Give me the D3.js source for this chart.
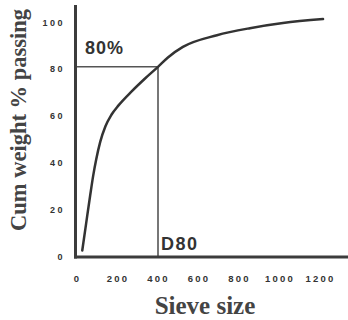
<!DOCTYPE html>
<html>
<head>
<meta charset="utf-8">
<script src="https://cdn.jsdelivr.net/npm/d3@7"></script>
<style>
  body { margin: 0; background: #fff; }
  svg { display: block; }
</style>
</head>
<body>
<div id="chart"></div>
<script>
// cumulative passing curve
const sieveSize = [26, 45, 65, 80, 95, 115, 140, 170, 205, 270, 336, 400, 449, 523, 691, 854, 1017, 1215];
const passing = [1.5, 13, 25, 33.5, 40.5, 48, 54.5, 59.5, 63.5, 69.5, 75, 80, 84, 88.5, 93.5, 96.5, 98.7, 100.4];
const xTicks = [0, 200, 400, 600, 800, 1000, 1200];
const yTicks = [0, 20, 40, 60, 80, 100];
const d80 = [400, 80];

const width = 348;
const height = 320;

const svg = d3.select('#chart').append('svg')
  .attr('width', width)
  .attr('height', height);

const x = d3.scaleLinear().domain([0, 1200]).range([77, 320]);
const y = d3.scaleLinear().domain([0, 100]).range([254, 20]);

const axisColor = '#3c3c3c';

// tick labels only, no tick marks
const xAxis = svg.append('g')
  .attr('transform', 'translate(0,279)')
  .call(d3.axisBottom(x).tickValues(xTicks).tickFormat(d3.format('d')).tickSize(0).tickPadding(0));
xAxis.select('.domain').remove();
xAxis.selectAll('text')
  .attr('dy', '0.35em')
  .attr('font-family', 'Liberation Sans, Arial, sans-serif')
  .attr('font-weight', 'bold')
  .attr('font-size', 9.5)
  .attr('letter-spacing', 2.2)
  .attr('fill', '#333');

const yAxis = svg.append('g')
  .attr('transform', 'translate(65,2)')
  .call(d3.axisLeft(y).tickValues(yTicks).tickSize(0).tickPadding(0));
yAxis.select('.domain').remove();
yAxis.selectAll('text')
  .attr('dy', '0.35em')
  .attr('font-family', 'Liberation Sans, Arial, sans-serif')
  .attr('font-weight', 'bold')
  .attr('font-size', 9)
  .attr('letter-spacing', 2.5)
  .attr('fill', '#333');

// 80% guide lines
const g = svg.append('g');
g.append('line')
  .attr('x1', 76).attr('x2', x(d80[0]))
  .attr('y1', y(d80[1])).attr('y2', y(d80[1]))
  .attr('stroke', '#555').attr('stroke-width', 1.6);
g.append('line')
  .attr('x1', x(d80[0])).attr('x2', x(d80[0]))
  .attr('y1', y(d80[1])).attr('y2', 257)
  .attr('stroke', '#555').attr('stroke-width', 1.6);

// curve
const line = d3.line()
  .x((d, i) => x(sieveSize[i]))
  .y((d) => y(d))
  .curve(d3.curveMonotoneX);

svg.append('path')
  .datum(passing)
  .attr('d', line)
  .attr('fill', 'none')
  .attr('stroke', '#333')
  .attr('stroke-width', 2.5)
  .attr('stroke-linecap', 'round');

// axis lines
svg.append('line')
  .attr('x1', 75.5).attr('x2', 75.5)
  .attr('y1', 5).attr('y2', 258.5)
  .attr('stroke', axisColor).attr('stroke-width', 3);
svg.append('line')
  .attr('x1', 74).attr('x2', 348)
  .attr('y1', 257).attr('y2', 257)
  .attr('stroke', axisColor).attr('stroke-width', 3);

// annotations
svg.append('text')
  .attr('x', 85).attr('y', 54)
  .attr('font-family', 'Liberation Sans, Arial, sans-serif')
  .attr('font-weight', 'bold')
  .attr('font-size', 18)
  .attr('letter-spacing', 1)
  .attr('fill', '#333')
  .text('80%');

svg.append('text')
  .attr('x', 161).attr('y', 250)
  .attr('font-family', 'Liberation Sans, Arial, sans-serif')
  .attr('font-weight', 'bold')
  .attr('font-size', 18)
  .attr('letter-spacing', 1.5)
  .attr('fill', '#333')
  .text('D80');

// axis titles
svg.append('text')
  .attr('x', 205).attr('y', 314)
  .attr('text-anchor', 'middle')
  .attr('font-family', 'Liberation Serif, Times New Roman, serif')
  .attr('font-weight', 'bold')
  .attr('font-size', 25)
  .attr('fill', '#444')
  .text('Sieve size');

svg.append('text')
  .attr('transform', 'translate(26,120) rotate(-90)')
  .attr('text-anchor', 'middle')
  .attr('font-family', 'Liberation Serif, Times New Roman, serif')
  .attr('font-weight', 'bold')
  .attr('font-size', 22.5)
  .attr('fill', '#444')
  .text('Cum weight % passing');
</script>
</body>
</html>
